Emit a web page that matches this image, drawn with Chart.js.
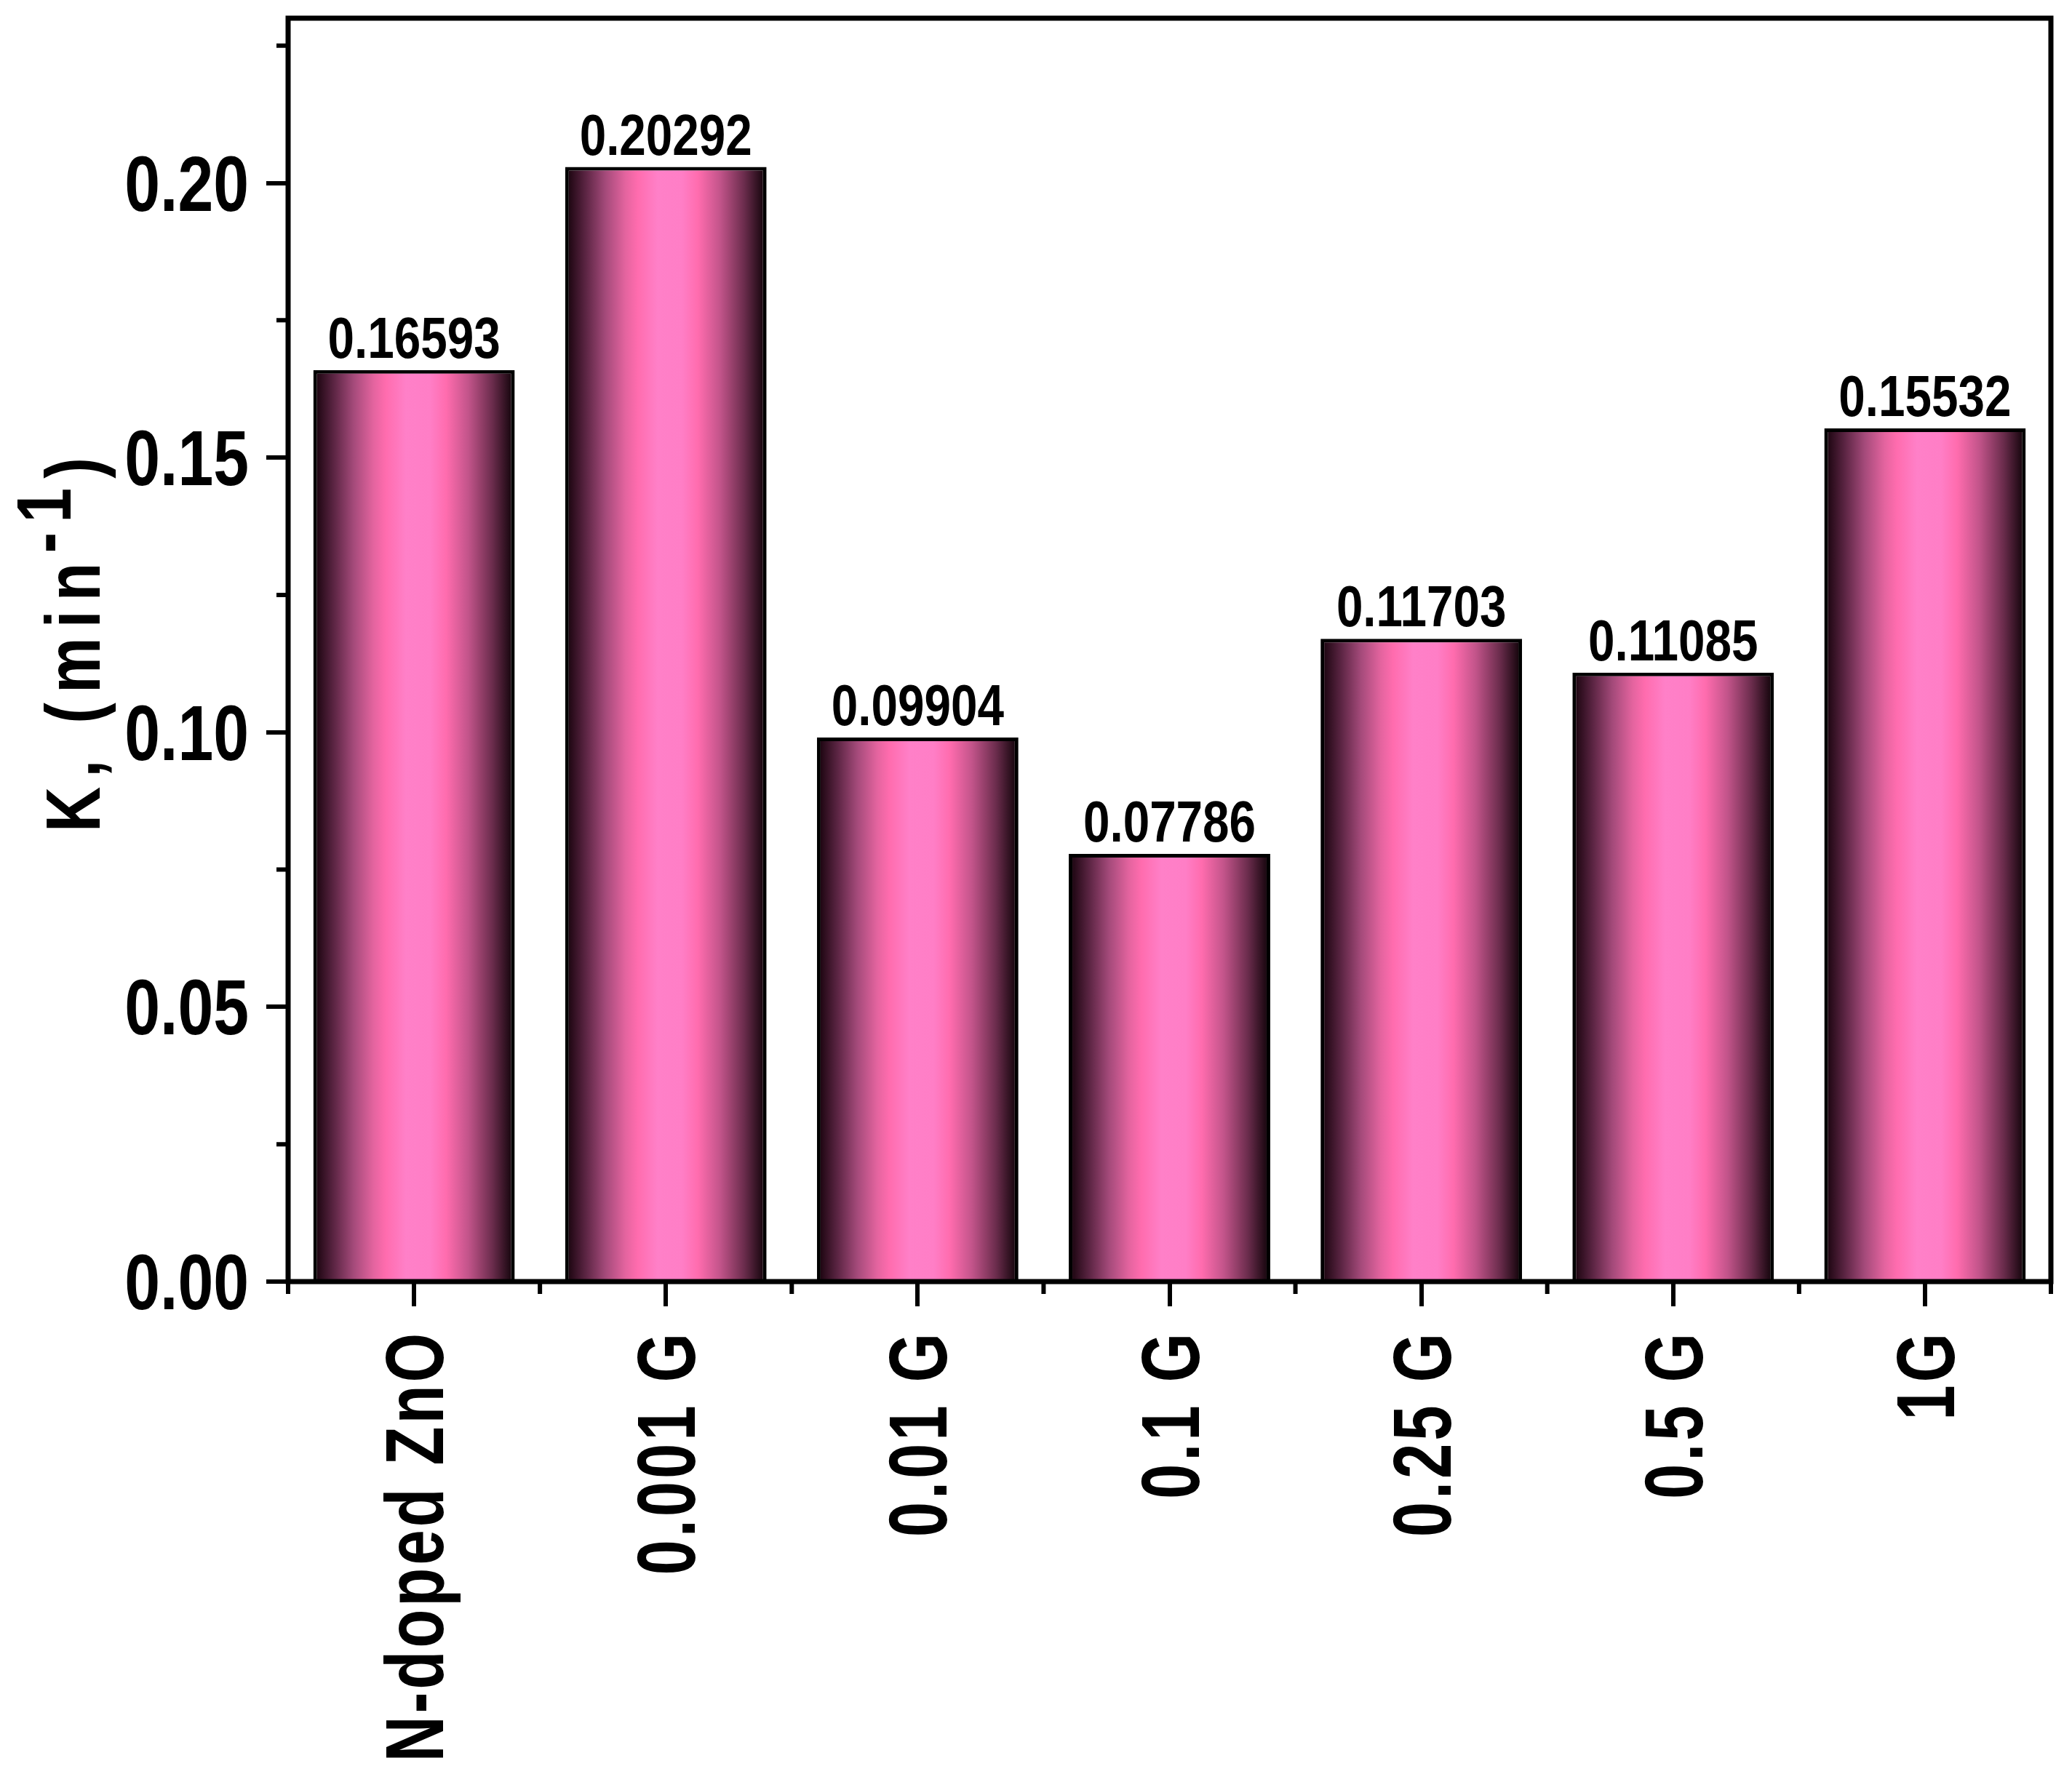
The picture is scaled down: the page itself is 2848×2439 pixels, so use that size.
<!DOCTYPE html>
<html>
<head>
<meta charset="utf-8">
<title>K rate constants</title>
<script src="https://cdn.jsdelivr.net/npm/chart.js@4.4.1/dist/chart.umd.min.js"></script>
<style>
  html, body { margin: 0; padding: 0; background: #fff; }
  canvas { display: block; }
</style>
</head>
<body>
<canvas id="kChart" width="2848" height="2439"></canvas>
<script>
// data
const categories = ['N-doped ZnO', '0.001 G', '0.01 G', '0.1 G', '0.25 G', '0.5 G', '1G'];
const rateConstants = [0.16593, 0.20292, 0.09904, 0.07786, 0.11703, 0.11085, 0.15532];
const yMinorTicks = [0.025, 0.075, 0.125, 0.175, 0.225];
const yMax = 0.23;

// no narrow font installed -> squeeze Liberation Sans Bold horizontally
const FONT = '"Liberation Sans", Arial, sans-serif';
const SQUEEZE = 0.82;
const PLOT = { left: 396, top: 25, right: 2819, bottom: 1762 };

// cylinder-like shading across each bar
function barFill(context) {
  const chart = context.chart;
  if (!chart.chartArea || context.dataIndex === undefined) return '#ff7ec8';
  const xs = chart.scales.x;
  const cx = xs.getPixelForValue(context.dataIndex);
  const half = xs.width / categories.length * 0.8 / 2;
  const g = chart.ctx.createLinearGradient(cx - half, 0, cx + half, 0);
  g.addColorStop(0.0, '#120008');
  g.addColorStop(0.1, '#5a2442');
  g.addColorStop(0.2, '#a44a7a');
  g.addColorStop(0.3, '#e4649f');
  g.addColorStop(0.36, '#ff6cae');
  g.addColorStop(0.46, '#ff80c8');
  g.addColorStop(0.58, '#ff7ec6');
  g.addColorStop(0.66, '#ff6cae');
  g.addColorStop(0.77, '#c2548a');
  g.addColorStop(0.89, '#6a2c4c');
  g.addColorStop(1.0, '#0a0004');
  return g;
}

function noPadding(scale) {
  scale.paddingTop = 0;
  scale.paddingBottom = 0;
  scale.paddingLeft = 0;
  scale.paddingRight = 0;
}

// text squeezed along its own direction; (x, y) is the anchor, rot in radians
function squeezedText(ctx, text, x, y, size, align, rot, baseShift, squeeze = SQUEEZE, spacing = 0) {
  ctx.save();
  ctx.font = `bold ${size}px ${FONT}`;
  ctx.letterSpacing = spacing + 'px';
  ctx.fillStyle = '#000';
  ctx.textAlign = align;
  ctx.textBaseline = 'alphabetic';
  ctx.translate(x, y);
  ctx.rotate(rot);
  ctx.scale(squeeze, 1);
  ctx.fillText(text, 0, baseShift);
  ctx.restore();
}

const decorations = {
  id: 'decorations',
  afterDatasetsDraw(chart) {
    const { ctx, chartArea: a, scales: { x, y } } = chart;
    // value labels above bars
    chart.getDatasetMeta(0).data.forEach((bar, i) => {
      squeezedText(ctx, rateConstants[i].toFixed(5), bar.x, bar.y - 17, 80, 'center', 0, 0);
    });
    ctx.save();
    // box frame
    ctx.lineWidth = 7;
    ctx.strokeStyle = '#000';
    ctx.strokeRect(a.left, a.top, a.right - a.left, a.bottom - a.top);
    // minor ticks
    ctx.lineWidth = 6;
    ctx.beginPath();
    yMinorTicks.forEach(v => {
      const py = y.getPixelForValue(v);
      ctx.moveTo(a.left - 16, py);
      ctx.lineTo(a.left, py);
    });
    for (let i = 0; i <= categories.length; i++) {
      const px = x.getPixelForValue(i - 0.5);
      ctx.moveTo(px, a.bottom);
      ctx.lineTo(px, a.bottom + 17);
    }
    ctx.stroke();
    ctx.restore();
  },
  afterDraw(chart) {
    const { ctx, chartArea: a, scales: { x, y } } = chart;
    // y tick labels
    y.ticks.forEach(t => {
      squeezedText(ctx, t.label, a.left - 30 - 24, y.getPixelForValue(t.value), 107, 'right', 0, 38);
    });
    // x tick labels, rotated, reading upward
    x.ticks.forEach((t, i) => {
      squeezedText(ctx, categories[i], x.getPixelForTick(i), a.bottom + 67, 113, 'right', -Math.PI / 2, 40, 0.77, 5);
    });
    // y axis title with superscript
    const parts = [
      { t: 'K, (min', raise: 0 },
      { t: '-1', raise: 40 },
      { t: ')', raise: 0 }
    ];
    ctx.save();
    ctx.font = `bold 105px ${FONT}`;
    ctx.letterSpacing = '16px';
    ctx.fillStyle = '#000';
    ctx.textAlign = 'left';
    ctx.textBaseline = 'alphabetic';
    const widths = parts.map(p => ctx.measureText(p.t).width);
    const total = widths.reduce((s, w) => s + w, 0);
    ctx.translate(137, 880);
    ctx.rotate(-Math.PI / 2);
    ctx.scale(SQUEEZE, 1);
    let u = -total / 2;
    parts.forEach((p, i) => {
      ctx.fillText(p.t, u, -p.raise);
      u += widths[i];
    });
    ctx.restore();
  }
};

const ctx = document.getElementById('kChart').getContext('2d');
const chart = new Chart(ctx, {
  type: 'bar',
  data: {
    labels: categories,
    datasets: [{
      label: 'K',
      data: rateConstants,
      backgroundColor: barFill,
      borderColor: '#000',
      borderWidth: 5,
      barPercentage: 0.8,
      categoryPercentage: 1.0
    }]
  },
  options: {
    responsive: false,
    animation: false,
    layout: { padding: { left: 0, top: PLOT.top, right: 2848 - PLOT.right, bottom: 0 } },
    plugins: {
      legend: { display: false },
      tooltip: { enabled: false }
    },
    scales: {
      x: {
        offset: true,
        grid: { offset: false, drawOnChartArea: false, drawTicks: true, tickLength: 34, lineWidth: 6, color: '#000' },
        border: { display: false },
        ticks: { display: false, autoSkip: false },
        afterFit(scale) {
          scale.height = 2439 - PLOT.bottom;
          noPadding(scale);
        }
      },
      y: {
        min: 0,
        max: yMax,
        grid: { drawOnChartArea: false, drawTicks: true, tickLength: 30, lineWidth: 6, color: '#000' },
        border: { display: false },
        ticks: {
          display: false,
          stepSize: 0.05,
          includeBounds: false,
          callback: v => v.toFixed(2)
        },
        afterFit(scale) {
          scale.width = PLOT.left;
          noPadding(scale);
        }
      }
    }
  },
  plugins: [decorations]
});
</script>
</body>
</html>
